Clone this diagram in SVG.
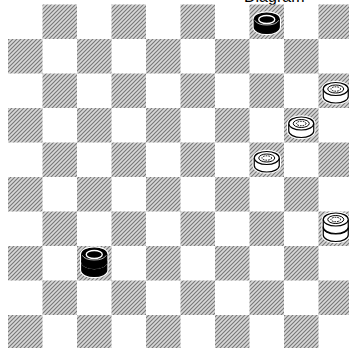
<svg xmlns="http://www.w3.org/2000/svg" xmlns:xlink="http://www.w3.org/1999/xlink" width="349" height="348" viewBox="0 0 349 348">
<style>
.d{fill:url(#hatch)}
.cap{font-family:"Liberation Sans",Arial,sans-serif;font-size:16px;fill:#000}
.halo{fill:#fff;stroke:#fff;stroke-width:3.5}
.wb{fill:#fff;stroke:#000;stroke-width:1.2}
.wl{fill:none;stroke:#000;stroke-width:1}
.bb{fill:#000;stroke:#000;stroke-width:1.2}
.bl{fill:none;stroke:#fff;stroke-width:1.4}
</style>
<defs>
<pattern id="hatch" patternUnits="userSpaceOnUse" width="4" height="4">
<rect width="4" height="4" fill="#d8d8d8"/>
<path d="M-1,1 L1,-1 M0,4 L4,0 M3,5 L5,3" stroke="#787878" stroke-width="1.15"/>
</pattern>
<path id="sil" d="M-12.5,0 A12.5,6.5 0 0 1 12.5,0 V7.5 A12.5,6.5 0 0 1 -12.5,7.5 Z"/>
<g id="wman">
<path class="wb" d="M-12.5,0 V7.5 A12.5,6.5 0 0 0 12.5,7.5 V0"/>
<ellipse class="wb" rx="12.5" ry="6.5"/>
<ellipse class="wl" rx="8" ry="4"/>
<ellipse class="wl" rx="4.8" ry="2.2" stroke-dasharray="1.6 1"/>
</g>
<g id="bman">
<path class="bb" d="M-12.5,0 V7.5 A12.5,6.5 0 0 0 12.5,7.5 V0"/>
<ellipse class="bb" rx="12.5" ry="6.5"/>
<path d="M-12,0.8 A12.5,6.5 0 0 0 12,0.8" fill="none" stroke="#fff" stroke-width="0.7"/>
<ellipse class="bl" rx="8" ry="4"/>
</g>
</defs>
<rect width="349" height="348" fill="#fff"/>
<text class="cap" x="244" y="2">Diagram</text>
<g id="board">
<rect class="d" x="42.5" y="4.5" width="34.5" height="34.5"/>
<rect class="d" x="111.5" y="4.5" width="34.5" height="34.5"/>
<rect class="d" x="180.5" y="4.5" width="34.5" height="34.5"/>
<rect class="d" x="249.5" y="4.5" width="34.5" height="34.5"/>
<rect class="d" x="318.5" y="4.5" width="34.5" height="34.5"/>
<rect class="d" x="8" y="39" width="34.5" height="34.5"/>
<rect class="d" x="77" y="39" width="34.5" height="34.5"/>
<rect class="d" x="146" y="39" width="34.5" height="34.5"/>
<rect class="d" x="215" y="39" width="34.5" height="34.5"/>
<rect class="d" x="284" y="39" width="34.5" height="34.5"/>
<rect class="d" x="42.5" y="73.5" width="34.5" height="34.5"/>
<rect class="d" x="111.5" y="73.5" width="34.5" height="34.5"/>
<rect class="d" x="180.5" y="73.5" width="34.5" height="34.5"/>
<rect class="d" x="249.5" y="73.5" width="34.5" height="34.5"/>
<rect class="d" x="318.5" y="73.5" width="34.5" height="34.5"/>
<rect class="d" x="8" y="108" width="34.5" height="34.5"/>
<rect class="d" x="77" y="108" width="34.5" height="34.5"/>
<rect class="d" x="146" y="108" width="34.5" height="34.5"/>
<rect class="d" x="215" y="108" width="34.5" height="34.5"/>
<rect class="d" x="284" y="108" width="34.5" height="34.5"/>
<rect class="d" x="42.5" y="142.5" width="34.5" height="34.5"/>
<rect class="d" x="111.5" y="142.5" width="34.5" height="34.5"/>
<rect class="d" x="180.5" y="142.5" width="34.5" height="34.5"/>
<rect class="d" x="249.5" y="142.5" width="34.5" height="34.5"/>
<rect class="d" x="318.5" y="142.5" width="34.5" height="34.5"/>
<rect class="d" x="8" y="177" width="34.5" height="34.5"/>
<rect class="d" x="77" y="177" width="34.5" height="34.5"/>
<rect class="d" x="146" y="177" width="34.5" height="34.5"/>
<rect class="d" x="215" y="177" width="34.5" height="34.5"/>
<rect class="d" x="284" y="177" width="34.5" height="34.5"/>
<rect class="d" x="42.5" y="211.5" width="34.5" height="34.5"/>
<rect class="d" x="111.5" y="211.5" width="34.5" height="34.5"/>
<rect class="d" x="180.5" y="211.5" width="34.5" height="34.5"/>
<rect class="d" x="249.5" y="211.5" width="34.5" height="34.5"/>
<rect class="d" x="318.5" y="211.5" width="34.5" height="34.5"/>
<rect class="d" x="8" y="246" width="34.5" height="34.5"/>
<rect class="d" x="77" y="246" width="34.5" height="34.5"/>
<rect class="d" x="146" y="246" width="34.5" height="34.5"/>
<rect class="d" x="215" y="246" width="34.5" height="34.5"/>
<rect class="d" x="284" y="246" width="34.5" height="34.5"/>
<rect class="d" x="42.5" y="280.5" width="34.5" height="34.5"/>
<rect class="d" x="111.5" y="280.5" width="34.5" height="34.5"/>
<rect class="d" x="180.5" y="280.5" width="34.5" height="34.5"/>
<rect class="d" x="249.5" y="280.5" width="34.5" height="34.5"/>
<rect class="d" x="318.5" y="280.5" width="34.5" height="34.5"/>
<rect class="d" x="8" y="315" width="34.5" height="34.5"/>
<rect class="d" x="77" y="315" width="34.5" height="34.5"/>
<rect class="d" x="146" y="315" width="34.5" height="34.5"/>
<rect class="d" x="215" y="315" width="34.5" height="34.5"/>
<rect class="d" x="284" y="315" width="34.5" height="34.5"/>
</g>
<g id="black-man-1" transform="translate(266.75,19.5)">
<use xlink:href="#sil" class="halo"/>
<use xlink:href="#bman"/>
</g>
<g id="white-man-1" transform="translate(335.75,89)">
<use xlink:href="#sil" class="halo"/>
<use xlink:href="#wman"/>
</g>
<g id="white-man-2" transform="translate(301.25,123.5)">
<use xlink:href="#sil" class="halo"/>
<use xlink:href="#wman"/>
</g>
<g id="white-man-3" transform="translate(266.75,158)">
<use xlink:href="#sil" class="halo"/>
<use xlink:href="#wman"/>
</g>
<g id="white-king" transform="translate(335.75,219.5)">
<use xlink:href="#sil" class="halo" y="8"/>
<use xlink:href="#sil" class="halo"/>
<use xlink:href="#wman" y="8"/>
<use xlink:href="#wman"/>
</g>
<g id="black-king" transform="translate(94.25,254.5)">
<use xlink:href="#sil" class="halo" y="8"/>
<use xlink:href="#sil" class="halo"/>
<use xlink:href="#bman" y="8"/>
<path d="M-12.5,7.5 A12.5,6.5 0 0 0 12.5,7.5" fill="none" stroke="#fff" stroke-width="1.4"/>
<use xlink:href="#bman"/>
</g>
</svg>
